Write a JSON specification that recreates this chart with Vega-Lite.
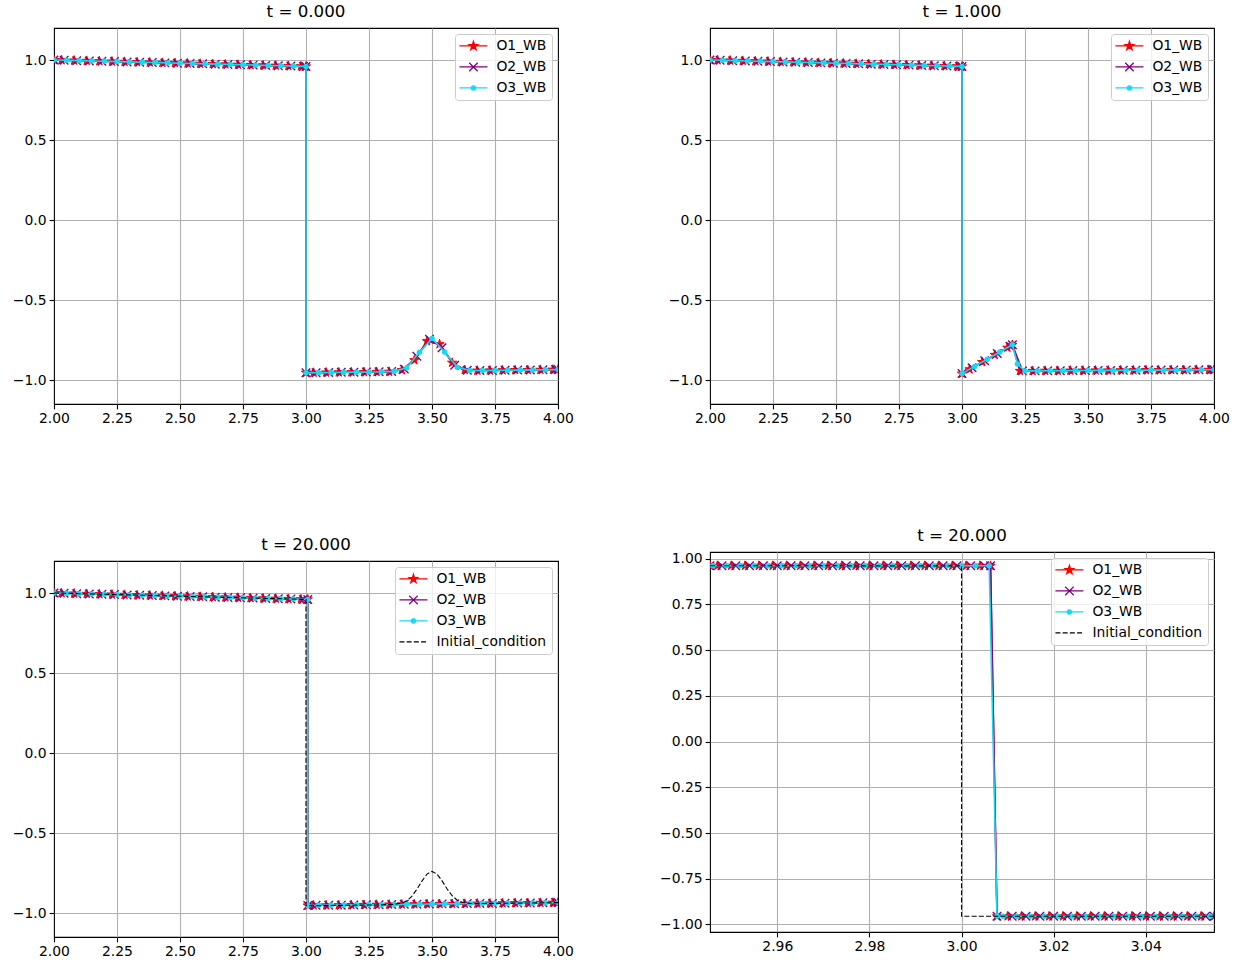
{
  "$schema": "https://vega.github.io/schema/vega-lite/v6.json",
  "padding": {"left": 11, "top": 3, "right": 0, "bottom": 0},
  "background": "white",
  "datasets": {
    "d": [
      {"p":1,"s":"O1_WB","x":2,"y":1},{"p":1,"s":"O1_WB","x":2.03,"y":0.999},{"p":1,"s":"O1_WB","x":2.08,"y":0.997},{"p":1,"s":"O1_WB","x":2.13,"y":0.995},{"p":1,"s":"O1_WB","x":2.18,"y":0.993},{"p":1,"s":"O1_WB","x":2.23,"y":0.991},{"p":1,"s":"O1_WB","x":2.28,"y":0.989},{"p":1,"s":"O1_WB","x":2.33,"y":0.987},{"p":1,"s":"O1_WB","x":2.38,"y":0.985},{"p":1,"s":"O1_WB","x":2.43,"y":0.983},{"p":1,"s":"O1_WB","x":2.48,"y":0.981},{"p":1,"s":"O1_WB","x":2.53,"y":0.979},{"p":1,"s":"O1_WB","x":2.58,"y":0.977},{"p":1,"s":"O1_WB","x":2.63,"y":0.975},{"p":1,"s":"O1_WB","x":2.68,"y":0.973},{"p":1,"s":"O1_WB","x":2.73,"y":0.971},{"p":1,"s":"O1_WB","x":2.78,"y":0.969},{"p":1,"s":"O1_WB","x":2.83,"y":0.967},{"p":1,"s":"O1_WB","x":2.88,"y":0.965},{"p":1,"s":"O1_WB","x":2.93,"y":0.963},{"p":1,"s":"O1_WB","x":2.98,"y":0.961},{"p":1,"s":"O1_WB","x":3,"y":0.96},{"p":1,"s":"O1_WB","x":3,"y":-0.955},{"p":1,"s":"O1_WB","x":3.03,"y":-0.954},{"p":1,"s":"O1_WB","x":3.08,"y":-0.953},{"p":1,"s":"O1_WB","x":3.13,"y":-0.952},{"p":1,"s":"O1_WB","x":3.18,"y":-0.951},{"p":1,"s":"O1_WB","x":3.23,"y":-0.95},{"p":1,"s":"O1_WB","x":3.28,"y":-0.949},{"p":1,"s":"O1_WB","x":3.33,"y":-0.948},{"p":1,"s":"O1_WB","x":3.38,"y":-0.938},{"p":1,"s":"O1_WB","x":3.43,"y":-0.876},{"p":1,"s":"O1_WB","x":3.48,"y":-0.757},{"p":1,"s":"O1_WB","x":3.53,"y":-0.776},{"p":1,"s":"O1_WB","x":3.58,"y":-0.892},{"p":1,"s":"O1_WB","x":3.63,"y":-0.937},{"p":1,"s":"O1_WB","x":3.68,"y":-0.941},{"p":1,"s":"O1_WB","x":3.73,"y":-0.94},{"p":1,"s":"O1_WB","x":3.78,"y":-0.939},{"p":1,"s":"O1_WB","x":3.83,"y":-0.938},{"p":1,"s":"O1_WB","x":3.88,"y":-0.937},{"p":1,"s":"O1_WB","x":3.93,"y":-0.936},{"p":1,"s":"O1_WB","x":3.98,"y":-0.935},{"p":1,"s":"O1_WB","x":4,"y":-0.935},

      {"p":1,"s":"O2_WB","x":2,"y":1},{"p":1,"s":"O2_WB","x":2.04,"y":0.998},{"p":1,"s":"O2_WB","x":2.09,"y":0.996},{"p":1,"s":"O2_WB","x":2.14,"y":0.994},{"p":1,"s":"O2_WB","x":2.19,"y":0.992},{"p":1,"s":"O2_WB","x":2.24,"y":0.99},{"p":1,"s":"O2_WB","x":2.29,"y":0.988},{"p":1,"s":"O2_WB","x":2.34,"y":0.986},{"p":1,"s":"O2_WB","x":2.39,"y":0.984},{"p":1,"s":"O2_WB","x":2.44,"y":0.982},{"p":1,"s":"O2_WB","x":2.49,"y":0.98},{"p":1,"s":"O2_WB","x":2.54,"y":0.978},{"p":1,"s":"O2_WB","x":2.59,"y":0.976},{"p":1,"s":"O2_WB","x":2.64,"y":0.974},{"p":1,"s":"O2_WB","x":2.69,"y":0.972},{"p":1,"s":"O2_WB","x":2.74,"y":0.97},{"p":1,"s":"O2_WB","x":2.79,"y":0.968},{"p":1,"s":"O2_WB","x":2.84,"y":0.966},{"p":1,"s":"O2_WB","x":2.89,"y":0.964},{"p":1,"s":"O2_WB","x":2.94,"y":0.962},{"p":1,"s":"O2_WB","x":2.99,"y":0.96},{"p":1,"s":"O2_WB","x":3,"y":0.96},{"p":1,"s":"O2_WB","x":3,"y":-0.955},{"p":1,"s":"O2_WB","x":3.04,"y":-0.954},{"p":1,"s":"O2_WB","x":3.09,"y":-0.953},{"p":1,"s":"O2_WB","x":3.14,"y":-0.952},{"p":1,"s":"O2_WB","x":3.19,"y":-0.951},{"p":1,"s":"O2_WB","x":3.24,"y":-0.95},{"p":1,"s":"O2_WB","x":3.29,"y":-0.949},{"p":1,"s":"O2_WB","x":3.34,"y":-0.947},{"p":1,"s":"O2_WB","x":3.39,"y":-0.932},{"p":1,"s":"O2_WB","x":3.44,"y":-0.852},{"p":1,"s":"O2_WB","x":3.49,"y":-0.745},{"p":1,"s":"O2_WB","x":3.54,"y":-0.799},{"p":1,"s":"O2_WB","x":3.59,"y":-0.908},{"p":1,"s":"O2_WB","x":3.64,"y":-0.939},{"p":1,"s":"O2_WB","x":3.69,"y":-0.941},{"p":1,"s":"O2_WB","x":3.74,"y":-0.94},{"p":1,"s":"O2_WB","x":3.79,"y":-0.939},{"p":1,"s":"O2_WB","x":3.84,"y":-0.938},{"p":1,"s":"O2_WB","x":3.89,"y":-0.937},{"p":1,"s":"O2_WB","x":3.94,"y":-0.936},{"p":1,"s":"O2_WB","x":3.99,"y":-0.935},{"p":1,"s":"O2_WB","x":4,"y":-0.935},

      {"p":1,"s":"O3_WB","x":2,"y":1},{"p":1,"s":"O3_WB","x":2.05,"y":0.998},{"p":1,"s":"O3_WB","x":2.1,"y":0.996},{"p":1,"s":"O3_WB","x":2.15,"y":0.994},{"p":1,"s":"O3_WB","x":2.2,"y":0.992},{"p":1,"s":"O3_WB","x":2.25,"y":0.99},{"p":1,"s":"O3_WB","x":2.3,"y":0.988},{"p":1,"s":"O3_WB","x":2.35,"y":0.986},{"p":1,"s":"O3_WB","x":2.4,"y":0.984},{"p":1,"s":"O3_WB","x":2.45,"y":0.982},{"p":1,"s":"O3_WB","x":2.5,"y":0.98},{"p":1,"s":"O3_WB","x":2.55,"y":0.978},{"p":1,"s":"O3_WB","x":2.6,"y":0.976},{"p":1,"s":"O3_WB","x":2.65,"y":0.974},{"p":1,"s":"O3_WB","x":2.7,"y":0.972},{"p":1,"s":"O3_WB","x":2.75,"y":0.97},{"p":1,"s":"O3_WB","x":2.8,"y":0.968},{"p":1,"s":"O3_WB","x":2.85,"y":0.966},{"p":1,"s":"O3_WB","x":2.9,"y":0.964},{"p":1,"s":"O3_WB","x":2.95,"y":0.962},{"p":1,"s":"O3_WB","x":3,"y":0.96},{"p":1,"s":"O3_WB","x":3,"y":-0.955},{"p":1,"s":"O3_WB","x":3.05,"y":-0.954},{"p":1,"s":"O3_WB","x":3.1,"y":-0.953},{"p":1,"s":"O3_WB","x":3.15,"y":-0.952},{"p":1,"s":"O3_WB","x":3.2,"y":-0.951},{"p":1,"s":"O3_WB","x":3.25,"y":-0.95},{"p":1,"s":"O3_WB","x":3.3,"y":-0.949},{"p":1,"s":"O3_WB","x":3.35,"y":-0.946},{"p":1,"s":"O3_WB","x":3.4,"y":-0.924},{"p":1,"s":"O3_WB","x":3.45,"y":-0.827},{"p":1,"s":"O3_WB","x":3.5,"y":-0.74},{"p":1,"s":"O3_WB","x":3.55,"y":-0.825},{"p":1,"s":"O3_WB","x":3.6,"y":-0.92},{"p":1,"s":"O3_WB","x":3.65,"y":-0.94},{"p":1,"s":"O3_WB","x":3.7,"y":-0.941},{"p":1,"s":"O3_WB","x":3.75,"y":-0.94},{"p":1,"s":"O3_WB","x":3.8,"y":-0.939},{"p":1,"s":"O3_WB","x":3.85,"y":-0.938},{"p":1,"s":"O3_WB","x":3.9,"y":-0.937},{"p":1,"s":"O3_WB","x":3.95,"y":-0.936},{"p":1,"s":"O3_WB","x":4,"y":-0.935},

      {"p":2,"s":"O1_WB","x":2,"y":1},{"p":2,"s":"O1_WB","x":2.03,"y":0.999},{"p":2,"s":"O1_WB","x":2.08,"y":0.997},{"p":2,"s":"O1_WB","x":2.13,"y":0.995},{"p":2,"s":"O1_WB","x":2.18,"y":0.993},{"p":2,"s":"O1_WB","x":2.23,"y":0.991},{"p":2,"s":"O1_WB","x":2.28,"y":0.989},{"p":2,"s":"O1_WB","x":2.33,"y":0.987},{"p":2,"s":"O1_WB","x":2.38,"y":0.985},{"p":2,"s":"O1_WB","x":2.43,"y":0.983},{"p":2,"s":"O1_WB","x":2.48,"y":0.981},{"p":2,"s":"O1_WB","x":2.53,"y":0.979},{"p":2,"s":"O1_WB","x":2.58,"y":0.977},{"p":2,"s":"O1_WB","x":2.63,"y":0.975},{"p":2,"s":"O1_WB","x":2.68,"y":0.973},{"p":2,"s":"O1_WB","x":2.73,"y":0.971},{"p":2,"s":"O1_WB","x":2.78,"y":0.969},{"p":2,"s":"O1_WB","x":2.83,"y":0.967},{"p":2,"s":"O1_WB","x":2.88,"y":0.965},{"p":2,"s":"O1_WB","x":2.93,"y":0.963},{"p":2,"s":"O1_WB","x":2.98,"y":0.961},{"p":2,"s":"O1_WB","x":3,"y":0.96},{"p":2,"s":"O1_WB","x":3,"y":-0.96},{"p":2,"s":"O1_WB","x":3.03,"y":-0.933},{"p":2,"s":"O1_WB","x":3.08,"y":-0.888},{"p":2,"s":"O1_WB","x":3.13,"y":-0.843},{"p":2,"s":"O1_WB","x":3.18,"y":-0.798},{"p":2,"s":"O1_WB","x":3.2,"y":-0.78},{"p":2,"s":"O1_WB","x":3.23,"y":-0.943},{"p":2,"s":"O1_WB","x":3.28,"y":-0.943},{"p":2,"s":"O1_WB","x":3.33,"y":-0.942},{"p":2,"s":"O1_WB","x":3.38,"y":-0.942},{"p":2,"s":"O1_WB","x":3.43,"y":-0.941},{"p":2,"s":"O1_WB","x":3.48,"y":-0.941},{"p":2,"s":"O1_WB","x":3.53,"y":-0.94},{"p":2,"s":"O1_WB","x":3.58,"y":-0.94},{"p":2,"s":"O1_WB","x":3.63,"y":-0.939},{"p":2,"s":"O1_WB","x":3.68,"y":-0.939},{"p":2,"s":"O1_WB","x":3.73,"y":-0.938},{"p":2,"s":"O1_WB","x":3.78,"y":-0.938},{"p":2,"s":"O1_WB","x":3.83,"y":-0.937},{"p":2,"s":"O1_WB","x":3.88,"y":-0.937},{"p":2,"s":"O1_WB","x":3.93,"y":-0.936},{"p":2,"s":"O1_WB","x":3.98,"y":-0.936},{"p":2,"s":"O1_WB","x":4,"y":-0.936},

      {"p":2,"s":"O2_WB","x":2,"y":1},{"p":2,"s":"O2_WB","x":2.04,"y":0.998},{"p":2,"s":"O2_WB","x":2.09,"y":0.996},{"p":2,"s":"O2_WB","x":2.14,"y":0.994},{"p":2,"s":"O2_WB","x":2.19,"y":0.992},{"p":2,"s":"O2_WB","x":2.24,"y":0.99},{"p":2,"s":"O2_WB","x":2.29,"y":0.988},{"p":2,"s":"O2_WB","x":2.34,"y":0.986},{"p":2,"s":"O2_WB","x":2.39,"y":0.984},{"p":2,"s":"O2_WB","x":2.44,"y":0.982},{"p":2,"s":"O2_WB","x":2.49,"y":0.98},{"p":2,"s":"O2_WB","x":2.54,"y":0.978},{"p":2,"s":"O2_WB","x":2.59,"y":0.976},{"p":2,"s":"O2_WB","x":2.64,"y":0.974},{"p":2,"s":"O2_WB","x":2.69,"y":0.972},{"p":2,"s":"O2_WB","x":2.74,"y":0.97},{"p":2,"s":"O2_WB","x":2.79,"y":0.968},{"p":2,"s":"O2_WB","x":2.84,"y":0.966},{"p":2,"s":"O2_WB","x":2.89,"y":0.964},{"p":2,"s":"O2_WB","x":2.94,"y":0.962},{"p":2,"s":"O2_WB","x":2.99,"y":0.96},{"p":2,"s":"O2_WB","x":3,"y":0.96},{"p":2,"s":"O2_WB","x":3,"y":-0.96},{"p":2,"s":"O2_WB","x":3.04,"y":-0.924},{"p":2,"s":"O2_WB","x":3.09,"y":-0.879},{"p":2,"s":"O2_WB","x":3.14,"y":-0.834},{"p":2,"s":"O2_WB","x":3.19,"y":-0.789},{"p":2,"s":"O2_WB","x":3.2,"y":-0.78},{"p":2,"s":"O2_WB","x":3.24,"y":-0.943},{"p":2,"s":"O2_WB","x":3.29,"y":-0.943},{"p":2,"s":"O2_WB","x":3.34,"y":-0.942},{"p":2,"s":"O2_WB","x":3.39,"y":-0.942},{"p":2,"s":"O2_WB","x":3.44,"y":-0.941},{"p":2,"s":"O2_WB","x":3.49,"y":-0.941},{"p":2,"s":"O2_WB","x":3.54,"y":-0.94},{"p":2,"s":"O2_WB","x":3.59,"y":-0.94},{"p":2,"s":"O2_WB","x":3.64,"y":-0.939},{"p":2,"s":"O2_WB","x":3.69,"y":-0.939},{"p":2,"s":"O2_WB","x":3.74,"y":-0.938},{"p":2,"s":"O2_WB","x":3.79,"y":-0.938},{"p":2,"s":"O2_WB","x":3.84,"y":-0.937},{"p":2,"s":"O2_WB","x":3.89,"y":-0.937},{"p":2,"s":"O2_WB","x":3.94,"y":-0.936},{"p":2,"s":"O2_WB","x":3.99,"y":-0.936},{"p":2,"s":"O2_WB","x":4,"y":-0.936},

      {"p":2,"s":"O3_WB","x":2,"y":1},{"p":2,"s":"O3_WB","x":2.05,"y":0.998},{"p":2,"s":"O3_WB","x":2.1,"y":0.996},{"p":2,"s":"O3_WB","x":2.15,"y":0.994},{"p":2,"s":"O3_WB","x":2.2,"y":0.992},{"p":2,"s":"O3_WB","x":2.25,"y":0.99},{"p":2,"s":"O3_WB","x":2.3,"y":0.988},{"p":2,"s":"O3_WB","x":2.35,"y":0.986},{"p":2,"s":"O3_WB","x":2.4,"y":0.984},{"p":2,"s":"O3_WB","x":2.45,"y":0.982},{"p":2,"s":"O3_WB","x":2.5,"y":0.98},{"p":2,"s":"O3_WB","x":2.55,"y":0.978},{"p":2,"s":"O3_WB","x":2.6,"y":0.976},{"p":2,"s":"O3_WB","x":2.65,"y":0.974},{"p":2,"s":"O3_WB","x":2.7,"y":0.972},{"p":2,"s":"O3_WB","x":2.75,"y":0.97},{"p":2,"s":"O3_WB","x":2.8,"y":0.968},{"p":2,"s":"O3_WB","x":2.85,"y":0.966},{"p":2,"s":"O3_WB","x":2.9,"y":0.964},{"p":2,"s":"O3_WB","x":2.95,"y":0.962},{"p":2,"s":"O3_WB","x":3,"y":0.96},{"p":2,"s":"O3_WB","x":3,"y":-0.96},{"p":2,"s":"O3_WB","x":3.05,"y":-0.915},{"p":2,"s":"O3_WB","x":3.1,"y":-0.87},{"p":2,"s":"O3_WB","x":3.15,"y":-0.825},{"p":2,"s":"O3_WB","x":3.2,"y":-0.78},{"p":2,"s":"O3_WB","x":3.22,"y":-0.9},{"p":2,"s":"O3_WB","x":3.25,"y":-0.943},{"p":2,"s":"O3_WB","x":3.3,"y":-0.943},{"p":2,"s":"O3_WB","x":3.35,"y":-0.942},{"p":2,"s":"O3_WB","x":3.4,"y":-0.942},{"p":2,"s":"O3_WB","x":3.45,"y":-0.941},{"p":2,"s":"O3_WB","x":3.5,"y":-0.941},{"p":2,"s":"O3_WB","x":3.55,"y":-0.94},{"p":2,"s":"O3_WB","x":3.6,"y":-0.94},{"p":2,"s":"O3_WB","x":3.65,"y":-0.939},{"p":2,"s":"O3_WB","x":3.7,"y":-0.939},{"p":2,"s":"O3_WB","x":3.75,"y":-0.938},{"p":2,"s":"O3_WB","x":3.8,"y":-0.938},{"p":2,"s":"O3_WB","x":3.85,"y":-0.937},{"p":2,"s":"O3_WB","x":3.9,"y":-0.937},{"p":2,"s":"O3_WB","x":3.95,"y":-0.936},{"p":2,"s":"O3_WB","x":4,"y":-0.936},

      {"p":3,"s":"O1_WB","x":2,"y":1},{"p":3,"s":"O1_WB","x":2.03,"y":0.999},{"p":3,"s":"O1_WB","x":2.08,"y":0.997},{"p":3,"s":"O1_WB","x":2.13,"y":0.995},{"p":3,"s":"O1_WB","x":2.18,"y":0.993},{"p":3,"s":"O1_WB","x":2.23,"y":0.991},{"p":3,"s":"O1_WB","x":2.28,"y":0.989},{"p":3,"s":"O1_WB","x":2.33,"y":0.987},{"p":3,"s":"O1_WB","x":2.38,"y":0.985},{"p":3,"s":"O1_WB","x":2.43,"y":0.983},{"p":3,"s":"O1_WB","x":2.48,"y":0.981},{"p":3,"s":"O1_WB","x":2.53,"y":0.979},{"p":3,"s":"O1_WB","x":2.58,"y":0.977},{"p":3,"s":"O1_WB","x":2.63,"y":0.975},{"p":3,"s":"O1_WB","x":2.68,"y":0.973},{"p":3,"s":"O1_WB","x":2.73,"y":0.971},{"p":3,"s":"O1_WB","x":2.78,"y":0.969},{"p":3,"s":"O1_WB","x":2.83,"y":0.967},{"p":3,"s":"O1_WB","x":2.88,"y":0.965},{"p":3,"s":"O1_WB","x":2.93,"y":0.963},{"p":3,"s":"O1_WB","x":2.98,"y":0.961},{"p":3,"s":"O1_WB","x":3.007,"y":0.96},{"p":3,"s":"O1_WB","x":3.007,"y":-0.953},{"p":3,"s":"O1_WB","x":3.03,"y":-0.952},{"p":3,"s":"O1_WB","x":3.08,"y":-0.952},{"p":3,"s":"O1_WB","x":3.13,"y":-0.951},{"p":3,"s":"O1_WB","x":3.18,"y":-0.95},{"p":3,"s":"O1_WB","x":3.23,"y":-0.949},{"p":3,"s":"O1_WB","x":3.28,"y":-0.948},{"p":3,"s":"O1_WB","x":3.33,"y":-0.947},{"p":3,"s":"O1_WB","x":3.38,"y":-0.946},{"p":3,"s":"O1_WB","x":3.43,"y":-0.945},{"p":3,"s":"O1_WB","x":3.48,"y":-0.944},{"p":3,"s":"O1_WB","x":3.53,"y":-0.943},{"p":3,"s":"O1_WB","x":3.58,"y":-0.943},{"p":3,"s":"O1_WB","x":3.63,"y":-0.942},{"p":3,"s":"O1_WB","x":3.68,"y":-0.941},{"p":3,"s":"O1_WB","x":3.73,"y":-0.94},{"p":3,"s":"O1_WB","x":3.78,"y":-0.939},{"p":3,"s":"O1_WB","x":3.83,"y":-0.938},{"p":3,"s":"O1_WB","x":3.88,"y":-0.937},{"p":3,"s":"O1_WB","x":3.93,"y":-0.936},{"p":3,"s":"O1_WB","x":3.98,"y":-0.935},{"p":3,"s":"O1_WB","x":4,"y":-0.935},

      {"p":3,"s":"O2_WB","x":2,"y":1},{"p":3,"s":"O2_WB","x":2.04,"y":0.998},{"p":3,"s":"O2_WB","x":2.09,"y":0.996},{"p":3,"s":"O2_WB","x":2.14,"y":0.994},{"p":3,"s":"O2_WB","x":2.19,"y":0.992},{"p":3,"s":"O2_WB","x":2.24,"y":0.99},{"p":3,"s":"O2_WB","x":2.29,"y":0.988},{"p":3,"s":"O2_WB","x":2.34,"y":0.986},{"p":3,"s":"O2_WB","x":2.39,"y":0.984},{"p":3,"s":"O2_WB","x":2.44,"y":0.982},{"p":3,"s":"O2_WB","x":2.49,"y":0.98},{"p":3,"s":"O2_WB","x":2.54,"y":0.978},{"p":3,"s":"O2_WB","x":2.59,"y":0.976},{"p":3,"s":"O2_WB","x":2.64,"y":0.974},{"p":3,"s":"O2_WB","x":2.69,"y":0.972},{"p":3,"s":"O2_WB","x":2.74,"y":0.97},{"p":3,"s":"O2_WB","x":2.79,"y":0.968},{"p":3,"s":"O2_WB","x":2.84,"y":0.966},{"p":3,"s":"O2_WB","x":2.89,"y":0.964},{"p":3,"s":"O2_WB","x":2.94,"y":0.962},{"p":3,"s":"O2_WB","x":2.99,"y":0.96},{"p":3,"s":"O2_WB","x":3.007,"y":0.96},{"p":3,"s":"O2_WB","x":3.007,"y":-0.953},{"p":3,"s":"O2_WB","x":3.04,"y":-0.952},{"p":3,"s":"O2_WB","x":3.09,"y":-0.951},{"p":3,"s":"O2_WB","x":3.14,"y":-0.951},{"p":3,"s":"O2_WB","x":3.19,"y":-0.95},{"p":3,"s":"O2_WB","x":3.24,"y":-0.949},{"p":3,"s":"O2_WB","x":3.29,"y":-0.948},{"p":3,"s":"O2_WB","x":3.34,"y":-0.947},{"p":3,"s":"O2_WB","x":3.39,"y":-0.946},{"p":3,"s":"O2_WB","x":3.44,"y":-0.945},{"p":3,"s":"O2_WB","x":3.49,"y":-0.944},{"p":3,"s":"O2_WB","x":3.54,"y":-0.943},{"p":3,"s":"O2_WB","x":3.59,"y":-0.942},{"p":3,"s":"O2_WB","x":3.64,"y":-0.941},{"p":3,"s":"O2_WB","x":3.69,"y":-0.941},{"p":3,"s":"O2_WB","x":3.74,"y":-0.94},{"p":3,"s":"O2_WB","x":3.79,"y":-0.939},{"p":3,"s":"O2_WB","x":3.84,"y":-0.938},{"p":3,"s":"O2_WB","x":3.89,"y":-0.937},{"p":3,"s":"O2_WB","x":3.94,"y":-0.936},{"p":3,"s":"O2_WB","x":3.99,"y":-0.935},{"p":3,"s":"O2_WB","x":4,"y":-0.935},

      {"p":3,"s":"O3_WB","x":2,"y":1},{"p":3,"s":"O3_WB","x":2.05,"y":0.998},{"p":3,"s":"O3_WB","x":2.1,"y":0.996},{"p":3,"s":"O3_WB","x":2.15,"y":0.994},{"p":3,"s":"O3_WB","x":2.2,"y":0.992},{"p":3,"s":"O3_WB","x":2.25,"y":0.99},{"p":3,"s":"O3_WB","x":2.3,"y":0.988},{"p":3,"s":"O3_WB","x":2.35,"y":0.986},{"p":3,"s":"O3_WB","x":2.4,"y":0.984},{"p":3,"s":"O3_WB","x":2.45,"y":0.982},{"p":3,"s":"O3_WB","x":2.5,"y":0.98},{"p":3,"s":"O3_WB","x":2.55,"y":0.978},{"p":3,"s":"O3_WB","x":2.6,"y":0.976},{"p":3,"s":"O3_WB","x":2.65,"y":0.974},{"p":3,"s":"O3_WB","x":2.7,"y":0.972},{"p":3,"s":"O3_WB","x":2.75,"y":0.97},{"p":3,"s":"O3_WB","x":2.8,"y":0.968},{"p":3,"s":"O3_WB","x":2.85,"y":0.966},{"p":3,"s":"O3_WB","x":2.9,"y":0.964},{"p":3,"s":"O3_WB","x":2.95,"y":0.962},{"p":3,"s":"O3_WB","x":3.007,"y":0.96},{"p":3,"s":"O3_WB","x":3.007,"y":-0.953},{"p":3,"s":"O3_WB","x":3.05,"y":-0.952},{"p":3,"s":"O3_WB","x":3.1,"y":-0.951},{"p":3,"s":"O3_WB","x":3.15,"y":-0.95},{"p":3,"s":"O3_WB","x":3.2,"y":-0.949},{"p":3,"s":"O3_WB","x":3.25,"y":-0.949},{"p":3,"s":"O3_WB","x":3.3,"y":-0.948},{"p":3,"s":"O3_WB","x":3.35,"y":-0.947},{"p":3,"s":"O3_WB","x":3.4,"y":-0.946},{"p":3,"s":"O3_WB","x":3.45,"y":-0.945},{"p":3,"s":"O3_WB","x":3.5,"y":-0.944},{"p":3,"s":"O3_WB","x":3.55,"y":-0.943},{"p":3,"s":"O3_WB","x":3.6,"y":-0.942},{"p":3,"s":"O3_WB","x":3.65,"y":-0.941},{"p":3,"s":"O3_WB","x":3.7,"y":-0.94},{"p":3,"s":"O3_WB","x":3.75,"y":-0.94},{"p":3,"s":"O3_WB","x":3.8,"y":-0.939},{"p":3,"s":"O3_WB","x":3.85,"y":-0.938},{"p":3,"s":"O3_WB","x":3.9,"y":-0.937},{"p":3,"s":"O3_WB","x":3.95,"y":-0.936},{"p":3,"s":"O3_WB","x":4,"y":-0.935},

      {"p":3,"s":"Initial_condition","x":2,"y":1},{"p":3,"s":"Initial_condition","x":3,"y":0.96},{"p":3,"s":"Initial_condition","x":3,"y":-0.955},{"p":3,"s":"Initial_condition","x":3.3,"y":-0.949},{"p":3,"s":"Initial_condition","x":3.35,"y":-0.946},{"p":3,"s":"Initial_condition","x":3.38,"y":-0.938},{"p":3,"s":"Initial_condition","x":3.4,"y":-0.924},{"p":3,"s":"Initial_condition","x":3.42,"y":-0.896},{"p":3,"s":"Initial_condition","x":3.44,"y":-0.852},{"p":3,"s":"Initial_condition","x":3.46,"y":-0.801},{"p":3,"s":"Initial_condition","x":3.48,"y":-0.757},{"p":3,"s":"Initial_condition","x":3.5,"y":-0.74},{"p":3,"s":"Initial_condition","x":3.52,"y":-0.757},{"p":3,"s":"Initial_condition","x":3.54,"y":-0.799},{"p":3,"s":"Initial_condition","x":3.56,"y":-0.85},{"p":3,"s":"Initial_condition","x":3.58,"y":-0.892},{"p":3,"s":"Initial_condition","x":3.6,"y":-0.92},{"p":3,"s":"Initial_condition","x":3.62,"y":-0.934},{"p":3,"s":"Initial_condition","x":3.65,"y":-0.94},{"p":3,"s":"Initial_condition","x":3.7,"y":-0.941},{"p":3,"s":"Initial_condition","x":4,"y":-0.935},

      {"p":4,"s":"O1_WB","x":2.9454,"y":0.961},{"p":4,"s":"O1_WB","x":2.947,"y":0.961},{"p":4,"s":"O1_WB","x":2.95,"y":0.961},{"p":4,"s":"O1_WB","x":2.953,"y":0.961},{"p":4,"s":"O1_WB","x":2.956,"y":0.961},{"p":4,"s":"O1_WB","x":2.959,"y":0.961},{"p":4,"s":"O1_WB","x":2.962,"y":0.961},{"p":4,"s":"O1_WB","x":2.965,"y":0.961},{"p":4,"s":"O1_WB","x":2.968,"y":0.961},{"p":4,"s":"O1_WB","x":2.971,"y":0.961},{"p":4,"s":"O1_WB","x":2.974,"y":0.961},{"p":4,"s":"O1_WB","x":2.977,"y":0.961},{"p":4,"s":"O1_WB","x":2.98,"y":0.961},{"p":4,"s":"O1_WB","x":2.983,"y":0.961},{"p":4,"s":"O1_WB","x":2.986,"y":0.961},{"p":4,"s":"O1_WB","x":2.989,"y":0.961},{"p":4,"s":"O1_WB","x":2.992,"y":0.961},{"p":4,"s":"O1_WB","x":2.995,"y":0.961},{"p":4,"s":"O1_WB","x":2.998,"y":0.961},{"p":4,"s":"O1_WB","x":3.001,"y":0.961},{"p":4,"s":"O1_WB","x":3.004,"y":0.961},{"p":4,"s":"O1_WB","x":3.0063,"y":0.961},{"p":4,"s":"O1_WB","x":3.0077,"y":-0.955},{"p":4,"s":"O1_WB","x":3.01,"y":-0.955},{"p":4,"s":"O1_WB","x":3.013,"y":-0.955},{"p":4,"s":"O1_WB","x":3.016,"y":-0.955},{"p":4,"s":"O1_WB","x":3.019,"y":-0.955},{"p":4,"s":"O1_WB","x":3.022,"y":-0.955},{"p":4,"s":"O1_WB","x":3.025,"y":-0.955},{"p":4,"s":"O1_WB","x":3.028,"y":-0.955},{"p":4,"s":"O1_WB","x":3.031,"y":-0.955},{"p":4,"s":"O1_WB","x":3.034,"y":-0.955},{"p":4,"s":"O1_WB","x":3.037,"y":-0.955},{"p":4,"s":"O1_WB","x":3.04,"y":-0.955},{"p":4,"s":"O1_WB","x":3.043,"y":-0.955},{"p":4,"s":"O1_WB","x":3.046,"y":-0.955},{"p":4,"s":"O1_WB","x":3.049,"y":-0.955},{"p":4,"s":"O1_WB","x":3.052,"y":-0.955},{"p":4,"s":"O1_WB","x":3.0548,"y":-0.955},

      {"p":4,"s":"O2_WB","x":2.9454,"y":0.961},{"p":4,"s":"O2_WB","x":2.948,"y":0.961},{"p":4,"s":"O2_WB","x":2.951,"y":0.961},{"p":4,"s":"O2_WB","x":2.954,"y":0.961},{"p":4,"s":"O2_WB","x":2.957,"y":0.961},{"p":4,"s":"O2_WB","x":2.96,"y":0.961},{"p":4,"s":"O2_WB","x":2.963,"y":0.961},{"p":4,"s":"O2_WB","x":2.966,"y":0.961},{"p":4,"s":"O2_WB","x":2.969,"y":0.961},{"p":4,"s":"O2_WB","x":2.972,"y":0.961},{"p":4,"s":"O2_WB","x":2.975,"y":0.961},{"p":4,"s":"O2_WB","x":2.978,"y":0.961},{"p":4,"s":"O2_WB","x":2.981,"y":0.961},{"p":4,"s":"O2_WB","x":2.984,"y":0.961},{"p":4,"s":"O2_WB","x":2.987,"y":0.961},{"p":4,"s":"O2_WB","x":2.99,"y":0.961},{"p":4,"s":"O2_WB","x":2.993,"y":0.961},{"p":4,"s":"O2_WB","x":2.996,"y":0.961},{"p":4,"s":"O2_WB","x":2.999,"y":0.961},{"p":4,"s":"O2_WB","x":3.002,"y":0.961},{"p":4,"s":"O2_WB","x":3.005,"y":0.961},{"p":4,"s":"O2_WB","x":3.0063,"y":0.961},{"p":4,"s":"O2_WB","x":3.0077,"y":-0.955},{"p":4,"s":"O2_WB","x":3.011,"y":-0.955},{"p":4,"s":"O2_WB","x":3.014,"y":-0.955},{"p":4,"s":"O2_WB","x":3.017,"y":-0.955},{"p":4,"s":"O2_WB","x":3.02,"y":-0.955},{"p":4,"s":"O2_WB","x":3.023,"y":-0.955},{"p":4,"s":"O2_WB","x":3.026,"y":-0.955},{"p":4,"s":"O2_WB","x":3.029,"y":-0.955},{"p":4,"s":"O2_WB","x":3.032,"y":-0.955},{"p":4,"s":"O2_WB","x":3.035,"y":-0.955},{"p":4,"s":"O2_WB","x":3.038,"y":-0.955},{"p":4,"s":"O2_WB","x":3.041,"y":-0.955},{"p":4,"s":"O2_WB","x":3.044,"y":-0.955},{"p":4,"s":"O2_WB","x":3.047,"y":-0.955},{"p":4,"s":"O2_WB","x":3.05,"y":-0.955},{"p":4,"s":"O2_WB","x":3.053,"y":-0.955},{"p":4,"s":"O2_WB","x":3.0548,"y":-0.955},

      {"p":4,"s":"O3_WB","x":2.946,"y":0.961},{"p":4,"s":"O3_WB","x":2.949,"y":0.961},{"p":4,"s":"O3_WB","x":2.952,"y":0.961},{"p":4,"s":"O3_WB","x":2.955,"y":0.961},{"p":4,"s":"O3_WB","x":2.958,"y":0.961},{"p":4,"s":"O3_WB","x":2.961,"y":0.961},{"p":4,"s":"O3_WB","x":2.964,"y":0.961},{"p":4,"s":"O3_WB","x":2.967,"y":0.961},{"p":4,"s":"O3_WB","x":2.97,"y":0.961},{"p":4,"s":"O3_WB","x":2.973,"y":0.961},{"p":4,"s":"O3_WB","x":2.976,"y":0.961},{"p":4,"s":"O3_WB","x":2.979,"y":0.961},{"p":4,"s":"O3_WB","x":2.982,"y":0.961},{"p":4,"s":"O3_WB","x":2.985,"y":0.961},{"p":4,"s":"O3_WB","x":2.988,"y":0.961},{"p":4,"s":"O3_WB","x":2.991,"y":0.961},{"p":4,"s":"O3_WB","x":2.994,"y":0.961},{"p":4,"s":"O3_WB","x":2.997,"y":0.961},{"p":4,"s":"O3_WB","x":3,"y":0.961},{"p":4,"s":"O3_WB","x":3.003,"y":0.961},{"p":4,"s":"O3_WB","x":3.006,"y":0.961},{"p":4,"s":"O3_WB","x":3.0077,"y":-0.955},{"p":4,"s":"O3_WB","x":3.009,"y":-0.955},{"p":4,"s":"O3_WB","x":3.012,"y":-0.955},{"p":4,"s":"O3_WB","x":3.015,"y":-0.955},{"p":4,"s":"O3_WB","x":3.018,"y":-0.955},{"p":4,"s":"O3_WB","x":3.021,"y":-0.955},{"p":4,"s":"O3_WB","x":3.024,"y":-0.955},{"p":4,"s":"O3_WB","x":3.027,"y":-0.955},{"p":4,"s":"O3_WB","x":3.03,"y":-0.955},{"p":4,"s":"O3_WB","x":3.033,"y":-0.955},{"p":4,"s":"O3_WB","x":3.036,"y":-0.955},{"p":4,"s":"O3_WB","x":3.039,"y":-0.955},{"p":4,"s":"O3_WB","x":3.042,"y":-0.955},{"p":4,"s":"O3_WB","x":3.045,"y":-0.955},{"p":4,"s":"O3_WB","x":3.048,"y":-0.955},{"p":4,"s":"O3_WB","x":3.051,"y":-0.955},{"p":4,"s":"O3_WB","x":3.054,"y":-0.955},

      {"p":4,"s":"Initial_condition","x":2.9454,"y":0.961},{"p":4,"s":"Initial_condition","x":3,"y":0.96},{"p":4,"s":"Initial_condition","x":3,"y":-0.955},{"p":4,"s":"Initial_condition","x":3.0548,"y":-0.955}
    ]
  },
  "spacing": 83,
  "resolve": {"scale": {"shape": "independent", "fill": "independent", "stroke": "independent", "strokeDash": "independent"}, "legend": {"shape": "independent", "fill": "independent", "stroke": "independent", "strokeDash": "independent"}},
  "hconcat": [
    {
      "spacing": 109,
      "resolve": {"scale": {"shape": "independent", "fill": "independent", "stroke": "independent", "strokeDash": "independent"}, "legend": {"shape": "independent", "fill": "independent", "stroke": "independent", "strokeDash": "independent"}},
      "vconcat": [
        {
          "width": 504, "height": 376, "title": "t = 0.000",
          "data": {"name": "d"},
          "transform": [{"filter": "datum.p == 1"}],
          "encoding": {
            "x": {"field": "x", "type": "quantitative", "scale": {"domain": [2, 4], "nice": false, "zero": false}, "axis": {"values": [2, 2.25, 2.5, 2.75, 3, 3.25, 3.5, 3.75, 4], "format": ".2f", "gridColor": {"condition": {"test": "datum.value <= 2.001 || datum.value >= 3.999", "value": "rgba(0,0,0,0)"}, "value": "#b0b0b0"}}},
            "y": {"field": "y", "type": "quantitative", "scale": {"domain": [-1.15, 1.2], "nice": false, "zero": false}, "axis": {"values": [-1, -0.5, 0, 0.5, 1], "format": ".1f"}}
          },
          "layer": [
            {"transform": [{"filter": "datum.s == 'O1_WB'"}], "mark": {"type": "line", "color": "#ff0000", "strokeWidth": 1.6, "clip": true}, "encoding": {"order": {"value": null}}},
            {"transform": [{"filter": "datum.s == 'O1_WB'"}], "mark": {"type": "point", "shape": "M0,-1L0.225,-0.309L0.951,-0.309L0.363,0.118L0.588,0.809L0,0.382L-0.588,0.809L-0.363,0.118L-0.951,-0.309L-0.225,-0.309Z", "size": 95, "filled": true, "color": "#ff0000", "stroke": "#ff0000", "strokeWidth": 1, "opacity": 1, "clip": true}},
            {"transform": [{"filter": "datum.s == 'O2_WB'"}], "mark": {"type": "line", "color": "#800080", "strokeWidth": 1.6, "clip": true}, "encoding": {"order": {"value": null}}},
            {"transform": [{"filter": "datum.s == 'O2_WB'"}], "mark": {"type": "point", "shape": "M-1,-1L1,1M-1,1L1,-1", "size": 72, "filled": false, "color": "#800080", "strokeWidth": 1.4, "opacity": 1, "clip": true}},
            {"transform": [{"filter": "datum.s == 'O3_WB'"}], "mark": {"type": "line", "color": "#12dcf5", "strokeWidth": 1.6, "clip": true}, "encoding": {"order": {"value": null}}},
            {"transform": [{"filter": "datum.s == 'O3_WB'"}], "mark": {"type": "point", "shape": "circle", "size": 30, "filled": true, "color": "#12dcf5", "opacity": 1, "clip": true}},
            {"transform": [{"filter": "false"}], "mark": {"type": "point", "opacity": 1},
             "encoding": {
               "shape": {"field": "s", "type": "nominal", "title": null, "scale": {"domain": ["O1_WB", "O2_WB", "O3_WB"], "range": ["M-2.95,0H2.95M0,-0.95L0.213,-0.294L0.903,-0.294L0.345,0.112L0.558,0.769L0,0.363L-0.558,0.769L-0.345,0.112L-0.903,-0.294L-0.213,-0.294Z", "M-2.95,0H2.95M-0.89,-0.89L0.89,0.89M-0.89,0.89L0.89,-0.89", "M-2.95,0H2.95M0.44,0A0.44,0.44,0,1,1,-0.44,0A0.44,0.44,0,1,1,0.44,0Z"]}},
               "fill": {"field": "s", "type": "nominal", "title": null, "scale": {"domain": ["O1_WB", "O2_WB", "O3_WB"], "range": ["#ff0000", "transparent", "#12dcf5"]}},
               "stroke": {"field": "s", "type": "nominal", "title": null, "scale": {"domain": ["O1_WB", "O2_WB", "O3_WB"], "range": ["#ff0000", "#800080", "#12dcf5"]}}
             }}
          ]
        },
        {
          "width": 504, "height": 376, "title": "t = 20.000",
          "data": {"name": "d"},
          "transform": [{"filter": "datum.p == 3"}],
          "encoding": {
            "x": {"field": "x", "type": "quantitative", "scale": {"domain": [2, 4], "nice": false, "zero": false}, "axis": {"values": [2, 2.25, 2.5, 2.75, 3, 3.25, 3.5, 3.75, 4], "format": ".2f", "gridColor": {"condition": {"test": "datum.value <= 2.001 || datum.value >= 3.999", "value": "rgba(0,0,0,0)"}, "value": "#b0b0b0"}}},
            "y": {"field": "y", "type": "quantitative", "scale": {"domain": [-1.15, 1.2], "nice": false, "zero": false}, "axis": {"values": [-1, -0.5, 0, 0.5, 1], "format": ".1f"}}
          },
          "layer": [
            {"transform": [{"filter": "datum.s == 'O1_WB'"}], "mark": {"type": "line", "color": "#ff0000", "strokeWidth": 1.6, "clip": true}, "encoding": {"order": {"value": null}}},
            {"transform": [{"filter": "datum.s == 'O1_WB'"}], "mark": {"type": "point", "shape": "M0,-1L0.225,-0.309L0.951,-0.309L0.363,0.118L0.588,0.809L0,0.382L-0.588,0.809L-0.363,0.118L-0.951,-0.309L-0.225,-0.309Z", "size": 95, "filled": true, "color": "#ff0000", "stroke": "#ff0000", "strokeWidth": 1, "opacity": 1, "clip": true}},
            {"transform": [{"filter": "datum.s == 'O2_WB'"}], "mark": {"type": "line", "color": "#800080", "strokeWidth": 1.6, "clip": true}, "encoding": {"order": {"value": null}}},
            {"transform": [{"filter": "datum.s == 'O2_WB'"}], "mark": {"type": "point", "shape": "M-1,-1L1,1M-1,1L1,-1", "size": 72, "filled": false, "color": "#800080", "strokeWidth": 1.4, "opacity": 1, "clip": true}},
            {"transform": [{"filter": "datum.s == 'O3_WB'"}], "mark": {"type": "line", "color": "#12dcf5", "strokeWidth": 1.6, "clip": true}, "encoding": {"order": {"value": null}}},
            {"transform": [{"filter": "datum.s == 'O3_WB'"}], "mark": {"type": "point", "shape": "circle", "size": 30, "filled": true, "color": "#12dcf5", "opacity": 1, "clip": true}},
            {"transform": [{"filter": "datum.s == 'Initial_condition'"}], "mark": {"type": "line", "color": "#000000", "strokeWidth": 1.1, "strokeDash": [5, 2.2], "clip": true}, "encoding": {"order": {"value": null}}},
            {"transform": [{"filter": "false"}], "mark": {"type": "point", "opacity": 1},
             "encoding": {
               "shape": {"field": "s", "type": "nominal", "title": null, "scale": {"domain": ["O1_WB", "O2_WB", "O3_WB", "Initial_condition"], "range": ["M-2.95,0H2.95M0,-0.95L0.213,-0.294L0.903,-0.294L0.345,0.112L0.558,0.769L0,0.363L-0.558,0.769L-0.345,0.112L-0.903,-0.294L-0.213,-0.294Z", "M-2.95,0H2.95M-0.89,-0.89L0.89,0.89M-0.89,0.89L0.89,-0.89", "M-2.95,0H2.95M0.44,0A0.44,0.44,0,1,1,-0.44,0A0.44,0.44,0,1,1,0.44,0Z", "M-2.95,0H2.95"]}},
               "fill": {"field": "s", "type": "nominal", "title": null, "scale": {"domain": ["O1_WB", "O2_WB", "O3_WB", "Initial_condition"], "range": ["#ff0000", "transparent", "#12dcf5", "transparent"]}},
               "stroke": {"field": "s", "type": "nominal", "title": null, "scale": {"domain": ["O1_WB", "O2_WB", "O3_WB", "Initial_condition"], "range": ["#ff0000", "#800080", "#12dcf5", "#000000"]}},
               "strokeDash": {"field": "s", "type": "nominal", "title": null, "scale": {"domain": ["O1_WB", "O2_WB", "O3_WB", "Initial_condition"], "range": [[1, 0], [1, 0], [1, 0], [5, 2.2]]}}
             }}
          ]
        }
      ]
    },
    {
      "spacing": 100,
      "resolve": {"scale": {"shape": "independent", "fill": "independent", "stroke": "independent", "strokeDash": "independent"}, "legend": {"shape": "independent", "fill": "independent", "stroke": "independent", "strokeDash": "independent"}},
      "vconcat": [
        {
          "width": 504, "height": 376, "title": "t = 1.000",
          "data": {"name": "d"},
          "transform": [{"filter": "datum.p == 2"}],
          "encoding": {
            "x": {"field": "x", "type": "quantitative", "scale": {"domain": [2, 4], "nice": false, "zero": false}, "axis": {"values": [2, 2.25, 2.5, 2.75, 3, 3.25, 3.5, 3.75, 4], "format": ".2f", "gridColor": {"condition": {"test": "datum.value <= 2.001 || datum.value >= 3.999", "value": "rgba(0,0,0,0)"}, "value": "#b0b0b0"}}},
            "y": {"field": "y", "type": "quantitative", "scale": {"domain": [-1.15, 1.2], "nice": false, "zero": false}, "axis": {"values": [-1, -0.5, 0, 0.5, 1], "format": ".1f"}}
          },
          "layer": [
            {"transform": [{"filter": "datum.s == 'O1_WB'"}], "mark": {"type": "line", "color": "#ff0000", "strokeWidth": 1.6, "clip": true}, "encoding": {"order": {"value": null}}},
            {"transform": [{"filter": "datum.s == 'O1_WB'"}], "mark": {"type": "point", "shape": "M0,-1L0.225,-0.309L0.951,-0.309L0.363,0.118L0.588,0.809L0,0.382L-0.588,0.809L-0.363,0.118L-0.951,-0.309L-0.225,-0.309Z", "size": 95, "filled": true, "color": "#ff0000", "stroke": "#ff0000", "strokeWidth": 1, "opacity": 1, "clip": true}},
            {"transform": [{"filter": "datum.s == 'O2_WB'"}], "mark": {"type": "line", "color": "#800080", "strokeWidth": 1.6, "clip": true}, "encoding": {"order": {"value": null}}},
            {"transform": [{"filter": "datum.s == 'O2_WB'"}], "mark": {"type": "point", "shape": "M-1,-1L1,1M-1,1L1,-1", "size": 72, "filled": false, "color": "#800080", "strokeWidth": 1.4, "opacity": 1, "clip": true}},
            {"transform": [{"filter": "datum.s == 'O3_WB'"}], "mark": {"type": "line", "color": "#12dcf5", "strokeWidth": 1.6, "clip": true}, "encoding": {"order": {"value": null}}},
            {"transform": [{"filter": "datum.s == 'O3_WB'"}], "mark": {"type": "point", "shape": "circle", "size": 30, "filled": true, "color": "#12dcf5", "opacity": 1, "clip": true}},
            {"transform": [{"filter": "false"}], "mark": {"type": "point", "opacity": 1},
             "encoding": {
               "shape": {"field": "s", "type": "nominal", "title": null, "scale": {"domain": ["O1_WB", "O2_WB", "O3_WB"], "range": ["M-2.95,0H2.95M0,-0.95L0.213,-0.294L0.903,-0.294L0.345,0.112L0.558,0.769L0,0.363L-0.558,0.769L-0.345,0.112L-0.903,-0.294L-0.213,-0.294Z", "M-2.95,0H2.95M-0.89,-0.89L0.89,0.89M-0.89,0.89L0.89,-0.89", "M-2.95,0H2.95M0.44,0A0.44,0.44,0,1,1,-0.44,0A0.44,0.44,0,1,1,0.44,0Z"]}},
               "fill": {"field": "s", "type": "nominal", "title": null, "scale": {"domain": ["O1_WB", "O2_WB", "O3_WB"], "range": ["#ff0000", "transparent", "#12dcf5"]}},
               "stroke": {"field": "s", "type": "nominal", "title": null, "scale": {"domain": ["O1_WB", "O2_WB", "O3_WB"], "range": ["#ff0000", "#800080", "#12dcf5"]}}
             }}
          ]
        },
        {
          "width": 504, "height": 380, "title": "t = 20.000",
          "data": {"name": "d"},
          "transform": [{"filter": "datum.p == 4"}],
          "encoding": {
            "x": {"field": "x", "type": "quantitative", "scale": {"domain": [2.9454, 3.0548], "nice": false, "zero": false}, "axis": {"values": [2.96, 2.98, 3, 3.02, 3.04], "format": ".2f"}},
            "y": {"field": "y", "type": "quantitative", "scale": {"domain": [-1.041, 1.036], "nice": false, "zero": false}, "axis": {"values": [-1, -0.75, -0.5, -0.25, 0, 0.25, 0.5, 0.75, 1], "format": ".2f"}}
          },
          "layer": [
            {"transform": [{"filter": "datum.s == 'O1_WB'"}], "mark": {"type": "line", "color": "#ff0000", "strokeWidth": 1.6, "clip": true}, "encoding": {"order": {"value": null}}},
            {"transform": [{"filter": "datum.s == 'O1_WB'"}], "mark": {"type": "point", "shape": "M0,-1L0.225,-0.309L0.951,-0.309L0.363,0.118L0.588,0.809L0,0.382L-0.588,0.809L-0.363,0.118L-0.951,-0.309L-0.225,-0.309Z", "size": 95, "filled": true, "color": "#ff0000", "stroke": "#ff0000", "strokeWidth": 1, "opacity": 1, "clip": true}},
            {"transform": [{"filter": "datum.s == 'O2_WB'"}], "mark": {"type": "line", "color": "#800080", "strokeWidth": 1.6, "clip": true}, "encoding": {"order": {"value": null}}},
            {"transform": [{"filter": "datum.s == 'O2_WB'"}], "mark": {"type": "point", "shape": "M-1,-1L1,1M-1,1L1,-1", "size": 72, "filled": false, "color": "#800080", "strokeWidth": 1.4, "opacity": 1, "clip": true}},
            {"transform": [{"filter": "datum.s == 'O3_WB'"}], "mark": {"type": "line", "color": "#12dcf5", "strokeWidth": 1.6, "clip": true}, "encoding": {"order": {"value": null}}},
            {"transform": [{"filter": "datum.s == 'O3_WB'"}], "mark": {"type": "point", "shape": "circle", "size": 30, "filled": true, "color": "#12dcf5", "opacity": 1, "clip": true}},
            {"transform": [{"filter": "datum.s == 'Initial_condition'"}], "mark": {"type": "line", "color": "#000000", "strokeWidth": 1.1, "strokeDash": [5, 2.2], "clip": true}, "encoding": {"order": {"value": null}}},
            {"transform": [{"filter": "false"}], "mark": {"type": "point", "opacity": 1},
             "encoding": {
               "shape": {"field": "s", "type": "nominal", "title": null, "scale": {"domain": ["O1_WB", "O2_WB", "O3_WB", "Initial_condition"], "range": ["M-2.95,0H2.95M0,-0.95L0.213,-0.294L0.903,-0.294L0.345,0.112L0.558,0.769L0,0.363L-0.558,0.769L-0.345,0.112L-0.903,-0.294L-0.213,-0.294Z", "M-2.95,0H2.95M-0.89,-0.89L0.89,0.89M-0.89,0.89L0.89,-0.89", "M-2.95,0H2.95M0.44,0A0.44,0.44,0,1,1,-0.44,0A0.44,0.44,0,1,1,0.44,0Z", "M-2.95,0H2.95"]}},
               "fill": {"field": "s", "type": "nominal", "title": null, "scale": {"domain": ["O1_WB", "O2_WB", "O3_WB", "Initial_condition"], "range": ["#ff0000", "transparent", "#12dcf5", "transparent"]}},
               "stroke": {"field": "s", "type": "nominal", "title": null, "scale": {"domain": ["O1_WB", "O2_WB", "O3_WB", "Initial_condition"], "range": ["#ff0000", "#800080", "#12dcf5", "#000000"]}},
               "strokeDash": {"field": "s", "type": "nominal", "title": null, "scale": {"domain": ["O1_WB", "O2_WB", "O3_WB", "Initial_condition"], "range": [[1, 0], [1, 0], [1, 0], [5, 2.2]]}}
             }}
          ]
        }
      ]
    }
  ],
  "config": {
    "font": "DejaVu Sans",
    "view": {"stroke": "#000000", "strokeWidth": 1.1},
    "axis": {"labelFont": "DejaVu Sans", "labelFontSize": 13.9, "labelColor": "#000000", "tickColor": "#000000", "tickSize": 4.9, "tickWidth": 1.1, "labelPadding": 3, "domain": false, "grid": true, "gridColor": "#b0b0b0", "gridWidth": 1.1, "title": null, "labelFlush": false, "labelOverlap": false, "labelBound": false},
    "axisX": {"labelAngle": 0},
    "title": {"font": "DejaVu Sans", "fontSize": 16.7, "fontWeight": "normal", "color": "#000000", "anchor": "middle", "baseline": "alphabetic", "offset": 7},
    "legend": {"title": null, "orient": "top-right", "offset": 6, "padding": 5, "rowPadding": 6, "labelFont": "DejaVu Sans", "labelFontSize": 13.9, "labelColor": "#000000", "labelOffset": 16, "symbolOffset": 6.5, "symbolSize": 90, "symbolStrokeWidth": 1.3, "fillColor": "rgba(255,255,255,0.8)", "strokeColor": "#cccccc", "cornerRadius": 3}
  }
}
